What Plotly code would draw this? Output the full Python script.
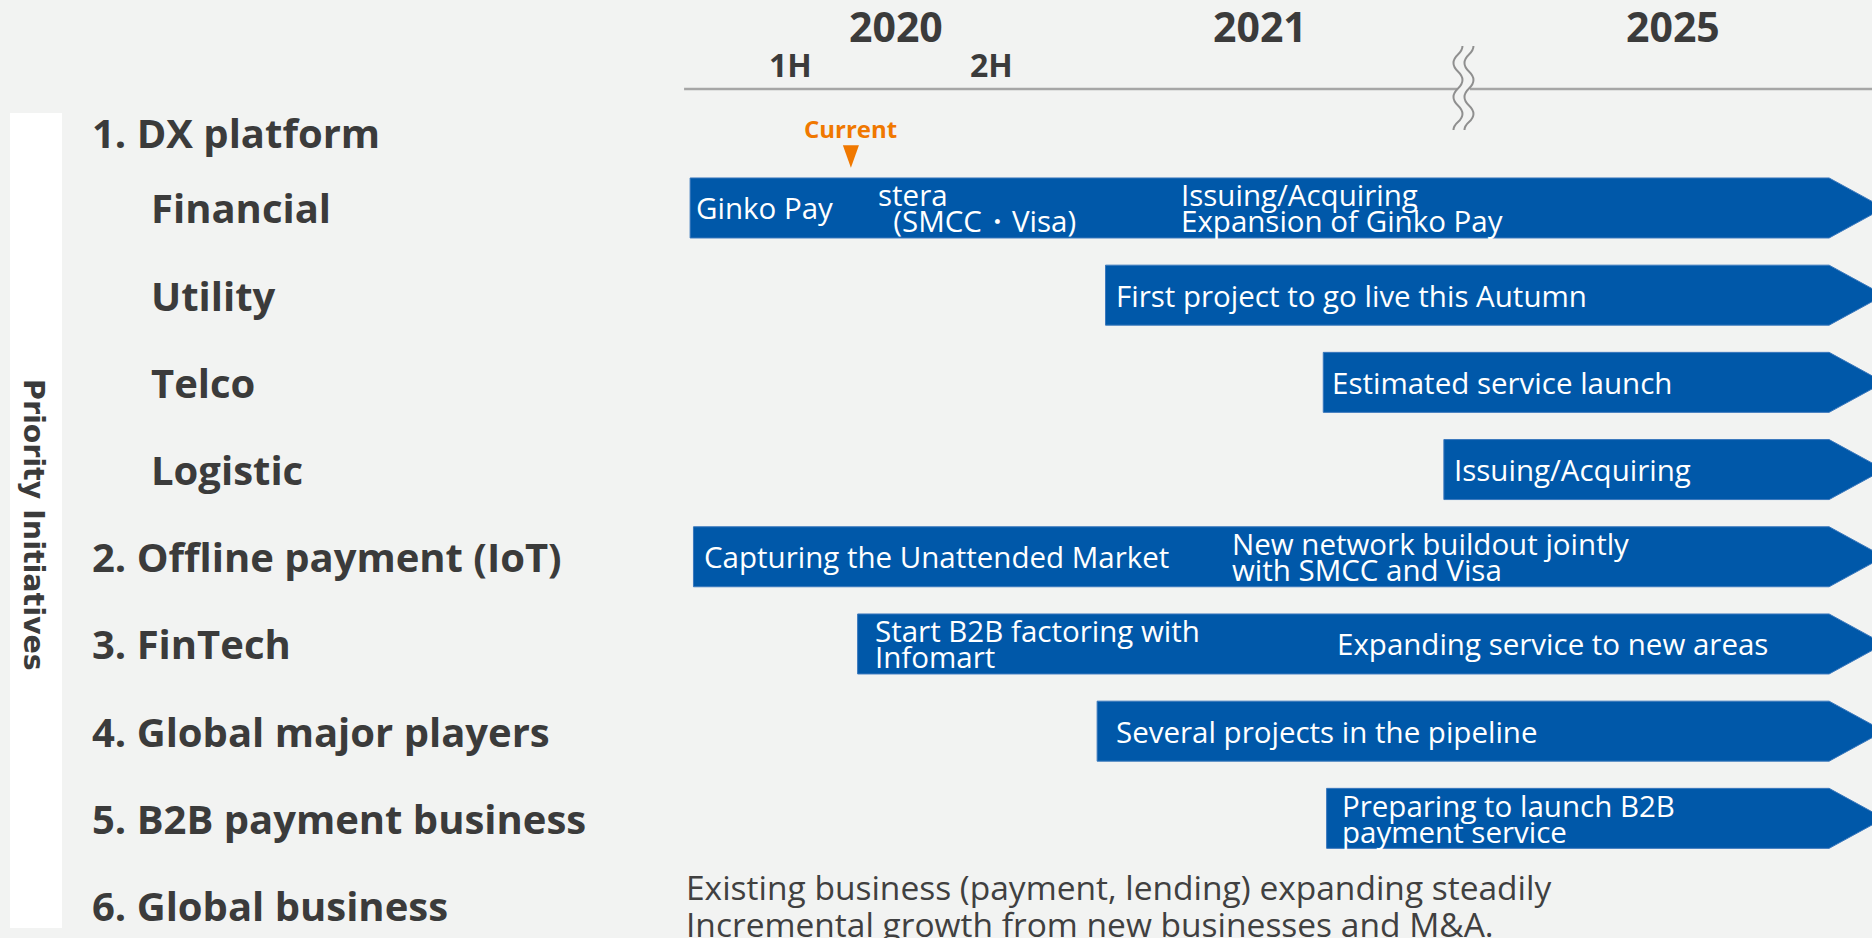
import plotly.graph_objects as go

# ---------------- data ----------------
# timeline positions are expressed in months counted from Jan 2020 (axis is broken after 2021)
YEAR_LABELS = ["2020", "2021", "2025"]
YEAR_POS = [6.15, 17.0, 29.35]
HALF_LABELS = ["1H", "2H"]
HALF_POS = [3.0, 9.0]
CURRENT_POS = 4.8
BREAK_POS = 23.1
TIMELINE_START = -0.18
TIMELINE_END = 34.0

ROW_LABELS = ["1. DX platform", "Financial", "Utility", "Telco", "Logistic",
              "2. Offline payment (IoT)", "3. FinTech", "4. Global major players",
              "5. B2B payment business", "6. Global business"]
ROW_INDENT = [False, True, True, True, True, False, False, False, False, False]
ROW_POS = [-0.86, 0, 1, 2, 3, 4, 5, 6, 7, 8]

BAR_ROW = [0, 1, 2, 3, 4, 5, 6, 7]
BAR_START = [0.0, 12.4, 18.9, 22.5, 0.1, 5.0, 12.15, 19.0]

TEXT_ROW = [0, 0, 0, 1, 2, 3, 4, 4, 5, 5, 6, 7]
TEXT_X = [0.12, 5.55, 14.6, 12.66, 19.1, 22.74, 0.36, 16.12, 5.46, 19.25, 12.66, 19.4]
TEXT_LINES = [
    ["Ginko Pay"],
    ["stera", "\u00a0\u00a0(SMCC・Visa)"],
    ["Issuing/Acquiring", "Expansion of Ginko Pay"],
    ["First project to go live this Autumn"],
    ["Estimated service launch"],
    ["Issuing/Acquiring"],
    ["Capturing the Unattended Market"],
    ["New network buildout jointly", "with SMCC and Visa"],
    ["Start B2B factoring with", "Infomart"],
    ["Expanding service to new areas"],
    ["Several projects in the pipeline"],
    ["Preparing to launch B2B", "payment service"],
]

GLOBAL_TEXT = ["Existing business (payment, lending) expanding steadily",
               "Incremental growth from new businesses and M&A."]
SIDE_TITLE = "Priority Initiatives"
CURRENT_LABEL = "Current"

# ---------------- styling ----------------
W, H = 1872, 938
BG = "#f2f3f2"
BLUE = "#0058a9"
DARK = "#3b3b3b"
ORANGE = "#f07800"
LINE = "#a6a6a6"
FONT = "Open Sans"

X_RANGE = [-20.6, 35.28]
Y_RANGE = [8.372, -2.385]
HALF_H = 0.344        # half bar height (rows)
TIP = 1.64            # arrow tip length (months)
AXIS_ROW = -1.365
YEAR_ROW = -2.09
HALF_ROW = -1.65
CURRENT_ROW = -0.917

fig = go.Figure()

# arrow bars
bx, by = [], []
for r, s in zip(BAR_ROW, BAR_START):
    bx += [s, TIMELINE_END, TIMELINE_END + TIP, TIMELINE_END, s, s, None]
    by += [r - HALF_H, r - HALF_H, r, r + HALF_H, r + HALF_H, r - HALF_H, None]
fig.add_trace(go.Scatter(x=bx, y=by, mode="lines", fill="toself", fillcolor=BLUE,
                         line=dict(color="#3a78bd", width=1), hoverinfo="skip",
                         showlegend=False))

# current marker triangle
tw = 0.24
fig.add_trace(go.Scatter(x=[CURRENT_POS - tw, CURRENT_POS + tw, CURRENT_POS, CURRENT_POS - tw],
                         y=[-0.72, -0.72, -0.46, -0.72], mode="lines", fill="toself",
                         fillcolor=ORANGE, line=dict(color=ORANGE, width=0),
                         hoverinfo="skip", showlegend=False))

shapes = []
# white side box
shapes.append(dict(type="rect", xref="paper", yref="paper", x0=10 / W, x1=62 / W,
                   y0=1 - 928 / H, y1=1 - 113 / H, fillcolor="white",
                   line=dict(width=0), layer="below"))
# timeline line
shapes.append(dict(type="line", xref="x", yref="y", x0=TIMELINE_START, x1=X_RANGE[1],
                   y0=AXIS_ROW, y1=AXIS_ROW, line=dict(color=LINE, width=2.5)))


def wave(cx, ys, amp):
    pts = [(cx + (amp if i % 2 == 0 else -amp), y) for i, y in enumerate(ys)]
    d = "M %.1f,%.1f" % pts[0]
    for (x1, y1), (x2, y2) in zip(pts[:-1], pts[1:]):
        m = (y2 - y1) * 0.5
        d += " C %.1f,%.1f %.1f,%.1f %.1f,%.1f" % (x1, y1 + m, x2, y2 - m, x2, y2)
    return d


ys = [43, 26, 9, -8, -25, -41]
dl = wave(-6, ys, 4.5)
dr = wave(5, ys, 4.5)
band = "M -7,12 L 6,12 L 6,-12 L -7,-12 Z"
shapes.append(dict(type="path", xref="x", yref="y", xsizemode="pixel", ysizemode="pixel",
                   xanchor=BREAK_POS, yanchor=AXIS_ROW, path=band, fillcolor=BG,
                   line=dict(width=0)))
for d in (dl, dr):
    shapes.append(dict(type="path", xref="x", yref="y", xsizemode="pixel", ysizemode="pixel",
                       xanchor=BREAK_POS, yanchor=AXIS_ROW, path=d,
                       line=dict(color="#8f8f8f", width=2)))

ann = []
# year labels
for lab, x in zip(YEAR_LABELS, YEAR_POS):
    ann.append(dict(x=x, y=YEAR_ROW, xref="x", yref="y", text=lab, showarrow=False,
                    font=dict(family=FONT, size=41, color=DARK, weight="bold")))
for lab, x in zip(HALF_LABELS, HALF_POS):
    ann.append(dict(x=x, y=HALF_ROW, xref="x", yref="y", text=lab, showarrow=False,
                    font=dict(family=FONT, size=32, color=DARK, weight="bold")))
ann.append(dict(x=CURRENT_POS, y=CURRENT_ROW, xref="x", yref="y", text=CURRENT_LABEL,
                showarrow=False, font=dict(family=FONT, size=24, color=ORANGE, weight="bold")))

# row labels
for lab, ind, r in zip(ROW_LABELS, ROW_INDENT, ROW_POS):
    ann.append(dict(x=(149 if ind else 90) / W, y=r, xref="paper", yref="y", text=lab,
                    xanchor="left", showarrow=False,
                    font=dict(family=FONT, size=40, color=DARK, weight="bold")))

# side title
ann.append(dict(x=34 / W, y=1 - 525 / H, xref="paper", yref="paper", text=SIDE_TITLE,
                xanchor="center", yanchor="middle", textangle=90, showarrow=False,
                font=dict(family="DejaVu Sans", size=28.5, color=DARK, weight="bold")))

# bar texts
for r, x, lines in zip(TEXT_ROW, TEXT_X, TEXT_LINES):
    n = len(lines)
    for i, t in enumerate(lines):
        shift = 0 if n == 1 else (13 if i == 0 else -13)
        ann.append(dict(x=x, y=r, xref="x", yref="y", text=t, xanchor="left",
                        yshift=shift, showarrow=False,
                        font=dict(family=FONT, size=29.5, color="white")))

# global business text
for i, t in enumerate(GLOBAL_TEXT):
    ann.append(dict(x=TIMELINE_START, y=8, xref="x", yref="y", text=t, xanchor="left",
                    yshift=19 if i == 0 else -18, showarrow=False,
                    font=dict(family=FONT, size=33.5, color="#404040")))

fig.update_layout(
    width=W, height=H, margin=dict(l=0, r=0, t=0, b=0),
    paper_bgcolor=BG, plot_bgcolor=BG, showlegend=False,
    xaxis=dict(range=X_RANGE, visible=False, fixedrange=True),
    yaxis=dict(range=Y_RANGE, visible=False, fixedrange=True),
    shapes=shapes, annotations=ann,
)

fig.write_html("out.html", config={"displayModeBar": False},
               post_script="document.body.style.margin='0';document.body.style.overflow='hidden';")
